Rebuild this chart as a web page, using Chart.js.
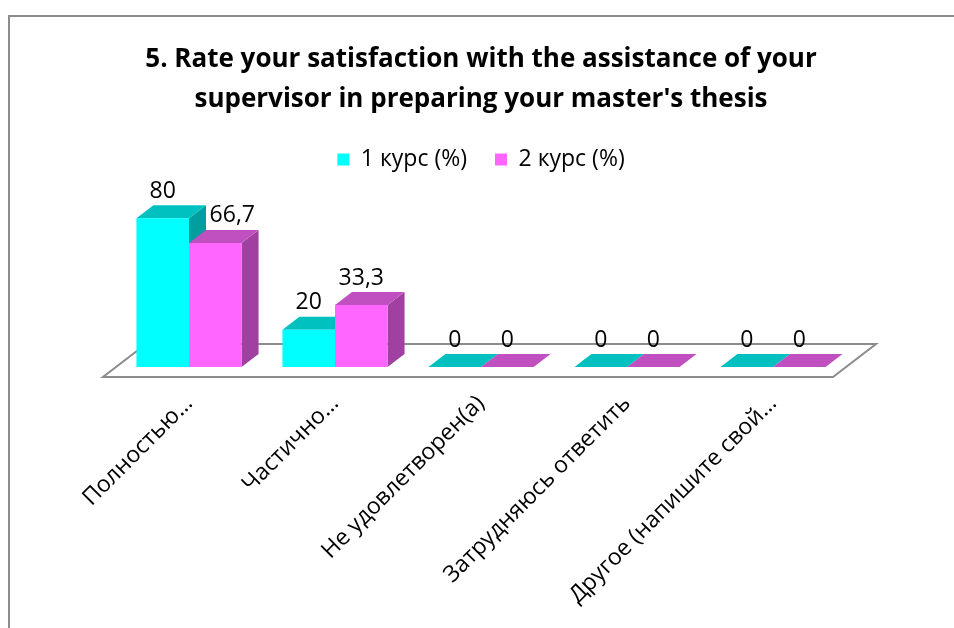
<!DOCTYPE html>
<html>
<head>
<meta charset="utf-8">
<script src="https://cdn.jsdelivr.net/npm/chart.js@4.4.1/dist/chart.umd.min.js"></script>
<style>
  html, body { margin: 0; padding: 0; background: #fff; }
  #wrap { width: 954px; height: 628px; }
</style>
</head>
<body>
<div id="wrap"><canvas id="chart"></canvas></div>
<script>
// ── Data ──
const categories = ['Полностью…', 'Частично…', 'Не удовлетворен(а)', 'Затрудняюсь ответить', 'Другое (напишите свой…'];
const course1 = [80, 20, 0, 0, 0];
const course2 = [66.7, 33.3, 0, 0, 0];
const seriesNames = ['1 курс (%)', '2 курс (%)'];
const titleLines = ['5. Rate your satisfaction with the assistance of your', "supervisor in preparing your master's thesis"];

const FONT = "'Open Sans', 'Noto Sans', sans-serif";

// face colours per series: front / top / side
const faces = [
  { front: '#00FFFF', top: '#00C0C0', side: '#009E9E' },
  { front: '#FF66FF', top: '#C050C0', side: '#A040A0' },
];

// ── 3D look: floor + bar depth ──
const DX = 17, DY = -13;          // bar depth offset
const FLOOR_FRONT = [-13, 10];    // floor front edge relative to bar front
const FLOOR_BACK = [30, -23];     // floor back edge relative to bar front

function poly(ctx, pts, fill, stroke, lw) {
  ctx.beginPath();
  ctx.moveTo(pts[0][0], pts[0][1]);
  for (let i = 1; i < pts.length; i++) ctx.lineTo(pts[i][0], pts[i][1]);
  ctx.closePath();
  if (fill) { ctx.fillStyle = fill; ctx.fill(); }
  if (stroke) { ctx.strokeStyle = stroke; ctx.lineWidth = lw || 1; ctx.stroke(); }
}

const box3dPlugin = {
  id: 'box3d',
  beforeDraw(chart) {
    const ctx = chart.ctx;
    ctx.save();
    ctx.strokeStyle = '#8c8c8c';
    ctx.lineWidth = 2;
    ctx.strokeRect(9, 16, 980, 660);
    ctx.restore();
  },
  beforeDatasetsDraw(chart) {
    const ctx = chart.ctx;
    const a = chart.chartArea;
    const b = a.bottom;
    ctx.save();
    // floor
    poly(ctx, [
      [a.left + FLOOR_FRONT[0], b + FLOOR_FRONT[1]],
      [a.right + FLOOR_FRONT[0], b + FLOOR_FRONT[1]],
      [a.right + FLOOR_BACK[0], b + FLOOR_BACK[1]],
      [a.left + FLOOR_BACK[0], b + FLOOR_BACK[1]],
    ], '#fff', '#8c8c8c', 2);

    // side + top faces (front faces are drawn by Chart.js afterwards)
    chart.data.labels.forEach((_, i) => {
      chart.data.datasets.forEach((ds, di) => {
        const el = chart.getDatasetMeta(di).data[i];
        if (!el) return;
        const { x, y, base, width } = el.getProps(['x', 'y', 'base', 'width'], true);
        const l = x - width / 2, r = x + width / 2;
        if (base - y > 0.5) {
          poly(ctx, [[r, y], [r + DX, y + DY], [r + DX, base + DY], [r, base]], faces[di].side);
        }
        poly(ctx, [[l, y], [l + DX, y + DY], [r + DX, y + DY], [r, y]], faces[di].top);
      });
    });
    ctx.restore();
  },
  afterDatasetsDraw(chart) {
    const ctx = chart.ctx;
    ctx.save();
    ctx.font = `23px ${FONT}`;
    ctx.fillStyle = '#000';
    ctx.textAlign = 'center';
    ctx.textBaseline = 'middle';
    chart.data.labels.forEach((_, i) => {
      chart.data.datasets.forEach((ds, di) => {
        const el = chart.getDatasetMeta(di).data[i];
        if (!el) return;
        const { x, y } = el.getProps(['x', 'y'], true);
        const v = ds.data[i];
        let lx = x;
        // push label right when the neighbour bar on the left is taller
        if (di > 0 && chart.data.datasets[di - 1].data[i] > v) lx += DX;
        ctx.fillText(String(v).replace('.', ','), lx, y + DY - 14);
      });
    });
    ctx.restore();
  },
};

new Chart(document.getElementById('chart'), {
  type: 'bar',
  data: {
    labels: categories,
    datasets: [
      { label: seriesNames[0], data: course1, backgroundColor: faces[0].front },
      { label: seriesNames[1], data: course2, backgroundColor: faces[1].front },
    ],
  },
  plugins: [box3dPlugin],
  options: {
    responsive: true,
    maintainAspectRatio: false,
    animation: false,
    layout: { padding: { left: 116, right: 108, top: 20, bottom: 0 } },
    datasets: {
      bar: { categoryPercentage: 0.72, barPercentage: 1.0, borderWidth: 0 },
    },
    plugins: {
      title: {
        display: true,
        text: titleLines,
        color: '#000',
        font: { family: FONT, size: 26, weight: 'bold', lineHeight: 40 / 26 },
        padding: { top: 20, bottom: 0 },
      },
      legend: {
        display: true,
        labels: {
          color: '#000',
          font: { family: FONT, size: 23 },
          boxWidth: 12,
          boxHeight: 12,
          padding: 28,
        },
      },
      tooltip: { enabled: false },
    },
    scales: {
      x: {
        grid: { display: false },
        border: { display: false },
        afterFit(scale) { scale.height = 261; },
        ticks: {
          autoSkip: false,
          maxRotation: 45,
          minRotation: 45,
          padding: 15,
          color: '#000',
          font: { family: FONT, size: 23 },
        },
      },
      y: { display: false, min: 0, max: 100 },
    },
  },
});
</script>
</body>
</html>
